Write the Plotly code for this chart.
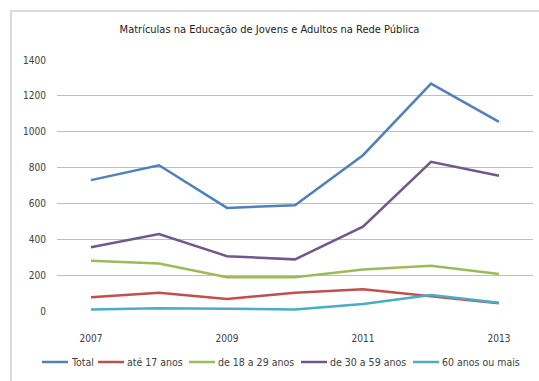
import plotly.graph_objects as go

years = [2007, 2008, 2009, 2010, 2011, 2012, 2013]
total = [730, 813, 575, 590, 869, 1268, 1055]
ate17 = [76, 102, 67, 102, 121, 84, 43]
de18_29 = [280, 265, 188, 188, 232, 252, 206]
de30_59 = [355, 429, 306, 288, 470, 832, 754]
mais60 = [9, 15, 12, 9, 39, 89, 46]

names = ["Total", "até 17 anos", "de 18 a 29 anos", "de 30 a 59 anos", "60 anos ou mais"]
values = [total, ate17, de18_29, de30_59, mais60]
colors = ["#4F81BD", "#C0504D", "#9BBB59", "#6E5A8A", "#4BACC6"]

font_family = "DejaVu Sans Condensed, Liberation Sans Narrow, Liberation Sans, sans-serif"

W, H = 539, 381
L, R, T, B = 57, 6, 60, 70
pw, ph = W - L - R, H - T - B

fig = go.Figure()
for name, vals, color in zip(names, values, colors):
    fig.add_trace(go.Scatter(x=years, y=vals, mode="lines", name=name,
                             line=dict(color=color, width=2.5), showlegend=False))

# manual legend (single row, compact like the original)
legend_x_px = [42, 98, 189, 301, 413]
legend_y = (H - B - 362) / ph
shapes = []
annotations = []
for name, color, xp in zip(names, colors, legend_x_px):
    x0 = (xp - L) / pw
    x1 = (xp + 26 - L) / pw
    shapes.append(dict(type="line", xref="paper", yref="paper", x0=x0, x1=x1,
                       y0=legend_y, y1=legend_y, line=dict(color=color, width=2.5)))
    annotations.append(dict(text=name, xref="paper", yref="paper",
                            x=(xp + 27 - L) / pw, y=legend_y, xanchor="left",
                            yanchor="middle", showarrow=False,
                            font=dict(size=10.5, color="#404040", family=font_family)))

shapes.append(dict(type="rect", xref="paper", yref="paper",
                   x0=(11 - L) / pw, x1=1.2, y0=-0.5, y1=1 + (T - 11) / ph,
                   line=dict(color="#D0D0D0", width=1.5)))

fig.update_layout(
    width=W, height=H,
    margin=dict(l=L, r=R, t=T, b=B),
    paper_bgcolor="white", plot_bgcolor="white",
    font=dict(family=font_family, size=10, color="#404040"),
    title=dict(text="Matrículas na Educação de Jovens e Adultos na Rede Pública",
               x=0.5, xanchor="center", y=1 - 29 / H, yanchor="middle",
               font=dict(family=font_family, size=11, color="#202020")),
    showlegend=False,
    xaxis=dict(range=[2006.5, 2013.5], tickvals=[2007, 2009, 2011, 2013],
               showgrid=False, zeroline=False, showline=False, ticks="",
               ticklabelstandoff=20,
               tickfont=dict(size=10, color="#404040")),
    yaxis=dict(range=[0, 1400], dtick=200, showgrid=True, gridcolor="#BFBFBF",
               gridwidth=1, zeroline=False, showline=False, ticks="",
               ticklabelstandoff=10,
               tickfont=dict(size=10, color="#404040")),
    shapes=shapes,
    annotations=annotations,
)

fig.write_html("out.html")
